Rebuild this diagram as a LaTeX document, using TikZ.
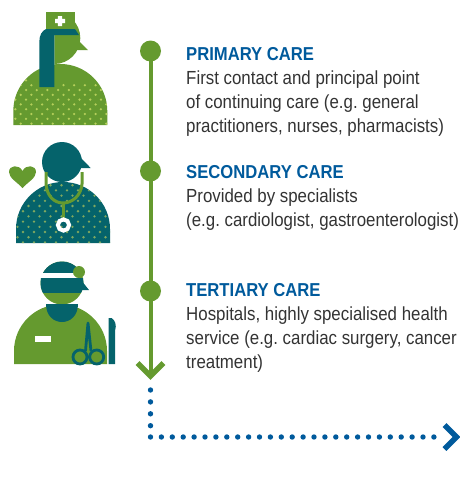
\documentclass[tikz,border=0pt]{standalone}
\usepackage{fontspec}
\setmainfont[FakeStretch=0.89,WordSpace=1.0]{Liberation Sans}
\definecolor{lgreen}{HTML}{659A2F}
\definecolor{lteal}{HTML}{05636B}
\definecolor{lblue}{HTML}{005A9C}
\definecolor{ltext}{HTML}{333333}
\definecolor{ldotg}{HTML}{B5CF5A}
\definecolor{ldott}{HTML}{7FA860}
\tikzset{
  stop/.style={circle,fill=lgreen,minimum size=21pt,inner sep=0pt},
  entry/.style={anchor=north west,inner sep=0pt,align=left,text=ltext,font=\fontsize{18.95}{24}\selectfont\frenchspacing},
  trunk/.style={draw=lgreen,line width=4pt},
  chev/.style={line width=5.5pt,miter limit=10},
  dots/.style={draw=lblue,line width=5.4pt,line cap=round,dash pattern=on 0pt off #1},
}
\newcommand{\headtitle}[1]{{\fontsize{18.7}{24}\selectfont\bfseries\color{lblue}#1}\\}
\begin{document}
\begin{tikzpicture}[x=1pt,y=-1pt]
\useasboundingbox (0,0) rectangle (460,488);
% ---- nurse
\begin{scope}
\clip (13.3,125) -- (13.3,111) arc[start angle=180,end angle=360,radius=47] -- (107.3,125) -- cycle;
\fill[lgreen] (0,50) rectangle (120,130);
\foreach \r in {0,...,13}{
  \pgfmathsetmacro{\yy}{66+\r*4.8}
  \pgfmathsetmacro{\off}{mod(\r,2)*5.35}
  \foreach \c in {0,...,10}{
    \pgfmathsetmacro{\xx}{10+\off+\c*10.7}
    \pgfmathparse{(\yy>84 || abs(\xx-60)>32)?1:0}
    \ifnum\pgfmathresult=1 \fill[ldotg] (\xx,\yy) circle[radius=1.25];\fi
  }
}
\end{scope}
\fill[lgreen] (54.3,64) arc[start angle=90,end angle=-90,radius=26] -- cycle;
\fill[lgreen] (80,42) -- (88,50) -- (70,50) -- cycle;
\fill[lteal] (39.3,87) -- (39.3,42) .. controls (39.3,35) and (42,31) .. (46,29) -- (75,29) -- (79,35) -- (54.3,35) -- (54.3,87) -- cycle;
\fill[lgreen] (46,12) rectangle (75,29);
\fill[white] (57.8,16) rectangle (62.2,26) (55,18.8) rectangle (65,23.2);
% ---- doctor
\begin{scope}
\clip (16,243) -- (16,229) arc[start angle=180,end angle=360,radius=47] -- (110,243) -- cycle;
\fill[lteal] (0,170) rectangle (120,250);
\foreach \r in {0,...,12}{
  \pgfmathsetmacro{\yy}{180+\r*5.2}
  \pgfmathsetmacro{\off}{mod(\r,2)*5.5}
  \foreach \c in {0,...,10}{
    \pgfmathsetmacro{\xx}{12+\off+\c*11}
    \fill[ldott] (\xx,\yy) circle[radius=1.3];
  }
}
\end{scope}
\fill[lteal] (62,162) circle[radius=20];
\fill[lteal] (81,158) -- (90.7,168) -- (72,168) -- cycle;
\draw[lgreen,line width=3pt] (46,172) -- (46,184) .. controls (47,196) and (54,203) .. (63,203) .. controls (72,203) and (81,196) .. (82,184) -- (82,172);
\draw[lgreen,line width=3pt] (63,203) -- (63,219);
\draw[white,line width=4pt] (63.5,225) circle[radius=5.6];
\fill[lgreen] (22.5,188) .. controls (17,182) and (9,178) .. (9,172) .. controls (9,165) and (19,164) .. (22.5,171) .. controls (26,164) and (36,165) .. (36,172) .. controls (36,178) and (28,182) .. (22.5,188) -- cycle;
% ---- surgeon
\fill[lgreen] (14,364) -- (14,351) arc[start angle=180,end angle=360,radius=46.5] -- (107,364) -- cycle;
\begin{scope}
\clip (62,283) circle[radius=21.5];
\fill[lgreen] (30,255) rectangle (90,310);
\fill[lteal] (30,255) rectangle (90,273);
\fill[lteal] (30,278) rectangle (90,293);
\end{scope}
\fill[white] (40,273) rectangle (78,278);
\fill[lteal] (81,280) -- (89,290) -- (72,290) -- cycle;
\fill[lgreen] (79,272) circle[radius=6];
\fill[lteal] (46,304) -- (78,304) .. controls (78,316) and (70,322) .. (62,322) .. controls (54,322) and (46,316) .. (46,304) -- cycle;
\fill[white] (35,336) rectangle (51,342);
\draw[lteal,line width=2.8pt] (80,357) circle[radius=7] (96.7,357) circle[radius=7];
\draw[lteal,line width=2.8pt,line join=round] (85.5,351) -- (88,323) -- (91,351);
\fill[lteal] (108.7,364) -- (108.7,318) -- (111.5,318) .. controls (115,320) and (117,325) .. (115,331) -- (115,364) -- cycle;
% ---- timeline
\node[stop] (p1) at (150.5,51) {};
\node[stop] (p2) at (150.5,171) {};
\node[stop] (p3) at (150.5,291) {};
\coordinate (tip) at (150.5,376);
\draw[trunk] (p1.center) -- (p2.center);
\draw[trunk] (p2.center) -- (p3.center);
\draw[trunk] (p3.center) -- (tip);
\draw[lgreen,chev] ([shift={(-13,-13)}]tip) -- (tip) -- ([shift={(13,-13)}]tip);
\coordinate (d0) at (150.5,390);
\coordinate (corner) at (150.5,437);
\coordinate (dend) at (444,437);
\draw[dots=11.9pt] (d0) -- (corner);
\draw[dots=10.9pt] (corner) -- (dend);
\coordinate (bh) at (456.5,437);
\draw[lblue,chev] ([shift={(-12,-12)}]bh) -- (bh) -- ([shift={(-12,12)}]bh);
% ---- text
\node[entry] (t1) at (186,47) {\headtitle{PRIMARY CARE}First contact and principal point\\of continuing care (e.g. general\\practitioners, nurses, pharmacists)};
\node[entry] (t2) at (186,165) {\headtitle{SECONDARY CARE}Provided by specialists\\(e.g. cardiologist, gastroenterologist)};
\node[entry] (t3) at (186,283) {\headtitle{TERTIARY CARE}Hospitals, highly specialised health\\service (e.g. cardiac surgery, cancer\\treatment)};
\end{tikzpicture}
\end{document}
